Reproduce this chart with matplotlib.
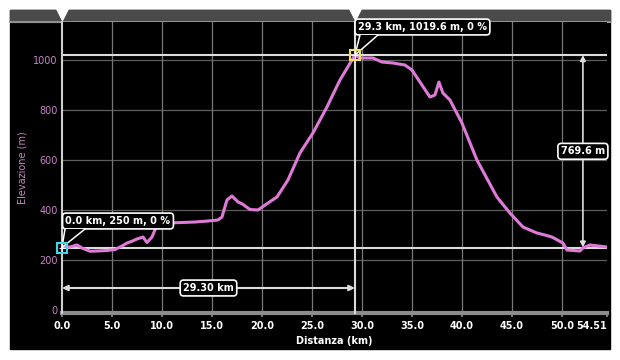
import matplotlib
matplotlib.use('Agg')
import matplotlib.pyplot as plt
from matplotlib.patches import Rectangle, Polygon
from matplotlib.lines import Line2D

# elevation profile (km, m)
dist_km = [0.0, 0.8, 1.5, 2.0, 2.8, 3.5, 4.5, 5.3, 6.0, 6.5,
           7.0, 7.5, 8.1, 8.5, 9.0, 9.5, 10.6, 12.0, 13.3, 14.6,
           15.6, 16.0, 16.5, 17.0, 17.6, 18.0, 18.8, 19.6, 20.5, 21.5,
           22.6, 23.8, 25.1, 26.5, 27.8, 29.3, 29.8, 31.1, 32.0, 33.1,
           34.3, 35.0, 35.8, 36.8, 37.3, 37.7, 38.1, 38.8, 40.0, 41.5,
           43.5, 44.8, 46.1, 47.5, 48.3, 49.0, 50.1, 50.5, 51.8, 52.1,
           52.8, 54.51]
elev_m = [250, 252, 260, 248, 235, 236, 238, 242, 256, 268,
          275, 284, 292, 270, 292, 340, 348, 350, 352, 356,
          360, 372, 440, 456, 432, 425, 402, 400, 425, 452,
          520, 628, 708, 812, 920, 1019.6, 1008, 1008, 992, 988,
          980, 960, 912, 852, 860, 912, 868, 840, 748, 600,
          452, 388, 332, 308, 300, 292, 268, 240, 236, 248,
          260, 252]

x_ticks = [0, 5, 10, 15, 20, 25, 30, 35, 40, 45, 50, 54.51]
x_labels = ['0.0', '5.0', '10.0', '15.0', '20.0', '25.0', '30.0', '35.0', '40.0', '45.0', '50.0', '54.51']
y_ticks = [0, 200, 400, 600, 800, 1000]

start_pt = (0.0, 250)
peak_pt = (29.3, 1019.6)
start_label = '0.0 km, 250 m, 0 %'
peak_label = '29.3 km, 1019.6 m, 0 %'
dist_label = '29.30 km'
climb_label = '769.6 m'
dist_arrow_y = 88
climb_arrow_x = 52.1

PINK = '#e07ad8'
TICK_PINK = '#c884c8'
W = 620.0
H = 360.0

fig = plt.figure(figsize=(6.2, 3.6), dpi=100, facecolor='white')
# black panel + grey top bar (behind the axes)
fig.patches.append(Rectangle((10 / W, 1 - 349 / H), 600 / W, 339 / H, color='black',
                             transform=fig.transFigure, zorder=-3))
fig.patches.append(Rectangle((10 / W, 1 - 22 / H), 600 / W, 12 / H, color='#4a4a4a',
                             transform=fig.transFigure, zorder=-2))
fig.lines.append(Line2D([10 / W, 610 / W], [1 - 22 / H, 1 - 22 / H], color='#a0a0a0', lw=1.2,
                        transform=fig.transFigure, zorder=-1))

ax = fig.add_axes([62 / W, 1 - 313 / H, 545 / W, 291 / H])
ax.set_facecolor('black')
ax.set_xlim(0, 54.51)
ax.set_ylim(-12, 1152)

# grid
for y in y_ticks[1:]:
    ax.axhline(y, color='#5e5e5e', lw=0.9, zorder=1)
for x in x_ticks[1:-1]:
    ax.axvline(x, color='#787878', lw=0.9, zorder=1)

for s in ['top', 'right', 'left']:
    ax.spines[s].set_visible(False)
ax.spines['bottom'].set_color('#8c8c8c')
ax.spines['bottom'].set_linewidth(3)

ax.set_xticks(x_ticks)
ax.set_xticklabels(x_labels, color='white', fontsize=7, fontweight='bold')
ax.get_xticklabels()[-1].set_horizontalalignment('right')
ax.set_yticks(y_ticks)
ax.set_yticklabels([str(v) for v in y_ticks], color=TICK_PINK, fontsize=7)
ax.tick_params(axis='y', length=0, pad=3)
ax.tick_params(axis='x', length=3, width=1.2, color='#8c8c8c', pad=3)
ax.set_xlabel('Distanza (km)', color='white', fontsize=7, fontweight='bold', labelpad=3)
ax.set_ylabel('Elevazione (m)', color=TICK_PINK, fontsize=7, labelpad=4)

# marker lines
ax.axhline(peak_pt[1], color='#dcdcdc', lw=1.5, zorder=3)
ax.axhline(start_pt[1], color='#dcdcdc', lw=1.5, zorder=3)
ax.plot([start_pt[0], start_pt[0]], [-12, 1152], color='#cfcfcf', lw=1.5, zorder=3, clip_on=False)
ax.plot([peak_pt[0], peak_pt[0]], [-12, 1152], color='#dcdcdc', lw=1.5, zorder=3, clip_on=False)
ax.plot([start_pt[0], peak_pt[0]], [1186, 1186], 'v', color='white', markersize=8,
        clip_on=False, zorder=6)

# profile
ax.plot(dist_km, elev_m, color=PINK, lw=2.2, zorder=5)

box = dict(boxstyle='round,pad=0.3,rounding_size=0.35', fc='black', ec='white', lw=1.2)

# distance arrow
ax.annotate('', xy=(start_pt[0], dist_arrow_y), xytext=(peak_pt[0], dist_arrow_y),
            arrowprops=dict(arrowstyle='<|-|>', color='#dddddd', lw=1.5, mutation_scale=8,
                            shrinkA=0, shrinkB=0), zorder=4)
ax.text((start_pt[0] + peak_pt[0]) / 2, dist_arrow_y, dist_label, color='white', fontsize=7,
        fontweight='bold', ha='center', va='center', bbox=box, zorder=8)

# climb arrow
ax.annotate('', xy=(climb_arrow_x, start_pt[1]), xytext=(climb_arrow_x, peak_pt[1]),
            arrowprops=dict(arrowstyle='<|-|>', color='#dddddd', lw=1.2, mutation_scale=8,
                            shrinkA=0, shrinkB=0), zorder=4)
ax.text(climb_arrow_x, (start_pt[1] + peak_pt[1]) / 2, climb_label, color='white', fontsize=7,
        fontweight='bold', ha='center', va='center', bbox=box, zorder=8)


def callout(pt, text_xy, tail_x, tail_y, label, color):
    ax.text(text_xy[0], text_xy[1], label, color='white', fontsize=7, fontweight='bold',
            ha='left', va='center', bbox=box, zorder=10, clip_on=False)
    ax.add_patch(Polygon([(tail_x[0], tail_y), (tail_x[1], tail_y), pt], closed=True,
                         fc='black', ec='none', zorder=11, clip_on=False))
    ax.plot([tail_x[0], pt[0], tail_x[1]], [tail_y, pt[1], tail_y], color='white', lw=1.1,
            zorder=12, clip_on=False)
    ax.plot(pt[0], pt[1], 's', ms=7, mfc='none', mec=color, mew=1.5, zorder=13, clip_on=False)
    ax.plot(pt[0], pt[1], '+', ms=4, color='white', mew=0.8, zorder=13, clip_on=False)


callout(peak_pt, (29.6, 1132), (29.8, 31.6), 1100, peak_label, '#f0e060')
callout(start_pt, (0.35, 356), (0.3, 2.3), 324, start_label, '#40d8e8')

fig.savefig('out.png', dpi=100, facecolor='white')
